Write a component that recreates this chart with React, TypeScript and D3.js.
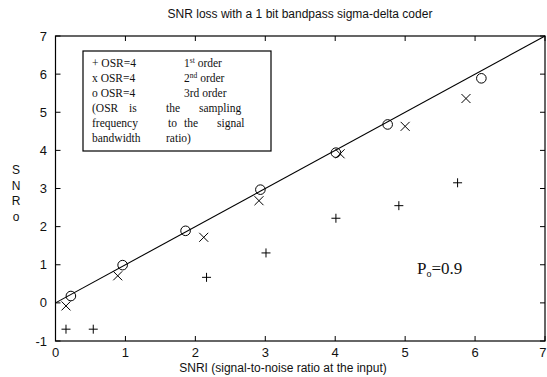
import React from "react";
import * as d3 from "d3";

const xTicks = [0, 1, 2, 3, 4, 5, 6, 7];
const yTicks = [-1, 0, 1, 2, 3, 4, 5, 6, 7];

const order1X = [0.15, 0.54, 2.16, 3.01, 4.01, 4.91, 5.75];
const order1Y = [-0.69, -0.69, 0.67, 1.31, 2.22, 2.55, 3.15];
const order2X = [0.15, 0.89, 2.12, 2.91, 4.07, 5.0, 5.87];
const order2Y = [-0.08, 0.71, 1.72, 2.68, 3.91, 4.63, 5.36];
const order3X = [0.22, 0.96, 1.86, 2.93, 4.01, 4.75, 6.09];
const order3Y = [0.18, 0.99, 1.89, 2.97, 3.94, 4.68, 5.89];
const refLine = [0, 7];

const W = 547;
const H = 377;
const left = 55.5;
const right = 545;
const top = 36;
const bottom = 341;

export default function App() {
  const x = d3.scaleLinear().domain([0, 7]).range([left, right]);
  const y = d3.scaleLinear().domain([-1, 7]).range([bottom, top]);
  const sans = "Liberation Sans, Arial, sans-serif";
  const serif = "Liberation Serif, Times New Roman, serif";
  const tk = 5;
  const line = d3.line<number>().x((d) => x(d)).y((d) => y(d));
  const ms = 4.5;

  return (
    <svg
      width={W}
      height={H}
      style={{ position: "absolute", left: 0, top: 0, background: "#fff" }}
    >
      <rect x={0} y={0} width={W} height={H} fill="#fff" />
      <text x={300} y={18} textAnchor="middle" fontFamily={sans} fontSize={12} fill="#111">
        SNR loss with a 1 bit bandpass sigma-delta coder
      </text>
      {/* frame */}
      <rect
        x={left}
        y={top}
        width={right - left}
        height={bottom - top}
        fill="none"
        stroke="#000"
        strokeWidth={1.2}
      />
      {xTicks.map((t) => (
        <g key={"xt" + t}>
          <line x1={x(t)} x2={x(t)} y1={bottom} y2={bottom - tk} stroke="#000" />
          <line x1={x(t)} x2={x(t)} y1={top} y2={top + tk} stroke="#000" />
          <text
            x={t === 7 ? W - 0.5 : x(t)}
            y={357}
            textAnchor={t === 7 ? "end" : "middle"}
            fontFamily={sans}
            fontSize={13}
            fill="#111"
          >
            {t}
          </text>
        </g>
      ))}
      {yTicks.map((t) => (
        <g key={"yt" + t}>
          <line x1={left} x2={left + tk} y1={y(t)} y2={y(t)} stroke="#000" />
          <line x1={right} x2={right - tk} y1={y(t)} y2={y(t)} stroke="#000" />
          <text
            x={47}
            y={y(t) + 4.5}
            textAnchor="end"
            fontFamily={sans}
            fontSize={13}
            fill="#111"
          >
            {t}
          </text>
        </g>
      ))}
      {/* axis labels */}
      <text x={283} y={372} textAnchor="middle" fontFamily={sans} fontSize={12} fill="#111">
        SNRI (signal-to-noise ratio at the input)
      </text>
      {["S", "N", "R", "o"].map((c, i) => (
        <text
          key={c}
          x={16}
          y={174 + i * 15.5}
          textAnchor="middle"
          fontFamily={sans}
          fontSize={12}
          fill="#111"
        >
          {c}
        </text>
      ))}
      {/* reference line */}
      <path d={line(refLine) || ""} fill="none" stroke="#000" strokeWidth={1.1} />
      {/* order 1: plus */}
      {order1X.map((v, i) => (
        <path
          key={"p" + i}
          d={`M${x(v) - ms},${y(order1Y[i])}h${2 * ms}M${x(v)},${y(order1Y[i]) - ms}v${2 * ms}`}
          stroke="#000"
          strokeWidth={1}
          fill="none"
        />
      ))}
      {/* order 2: x */}
      {order2X.map((v, i) => (
        <path
          key={"x" + i}
          d={`M${x(v) - ms},${y(order2Y[i]) - ms}l${2 * ms},${2 * ms}M${x(v) - ms},${
            y(order2Y[i]) + ms
          }l${2 * ms},${-2 * ms}`}
          stroke="#000"
          strokeWidth={1}
          fill="none"
        />
      ))}
      {/* order 3: o */}
      {order3X.map((v, i) => (
        <circle
          key={"o" + i}
          cx={x(v)}
          cy={y(order3Y[i])}
          r={4.8}
          stroke="#000"
          strokeWidth={1}
          fill="none"
        />
      ))}
      {/* legend */}
      <rect x={83} y={51} width={188} height={100} fill="#fff" stroke="#000" strokeWidth={1.2} />
      <g fontFamily={serif} fontSize={11.5} fill="#111">
        <text x={92} y={67}>+ OSR=4</text>
        <text x={184} y={67}>
          1<tspan fontSize={7.5} dy={-4.5}>st</tspan>
          <tspan dy={4.5}> order</tspan>
        </text>
        <text x={92} y={82}>x OSR=4</text>
        <text x={184} y={82}>
          2<tspan fontSize={7.5} dy={-4.5}>nd</tspan>
          <tspan dy={4.5}> order</tspan>
        </text>
        <text x={92} y={97}>o OSR=4</text>
        <text x={184} y={97}>3rd order</text>
        <text x={92} y={112}>(OSR</text>
        <text x={129} y={112}>is</text>
        <text x={166} y={112}>the</text>
        <text x={199} y={112}>sampling</text>
        <text x={92} y={127}>frequency</text>
        <text x={168} y={127}>to</text>
        <text x={184} y={127}>the</text>
        <text x={217} y={127}>signal</text>
        <text x={92} y={142}>bandwidth</text>
        <text x={166} y={142}>ratio)</text>
      </g>
      {/* annotation */}
      <text x={417} y={274} fontFamily={serif} fontSize={17} fill="#111">
        P<tspan fontSize={10} dy={3}>o</tspan>
        <tspan dy={-3}>=0.9</tspan>
      </text>
    </svg>
  );
}
